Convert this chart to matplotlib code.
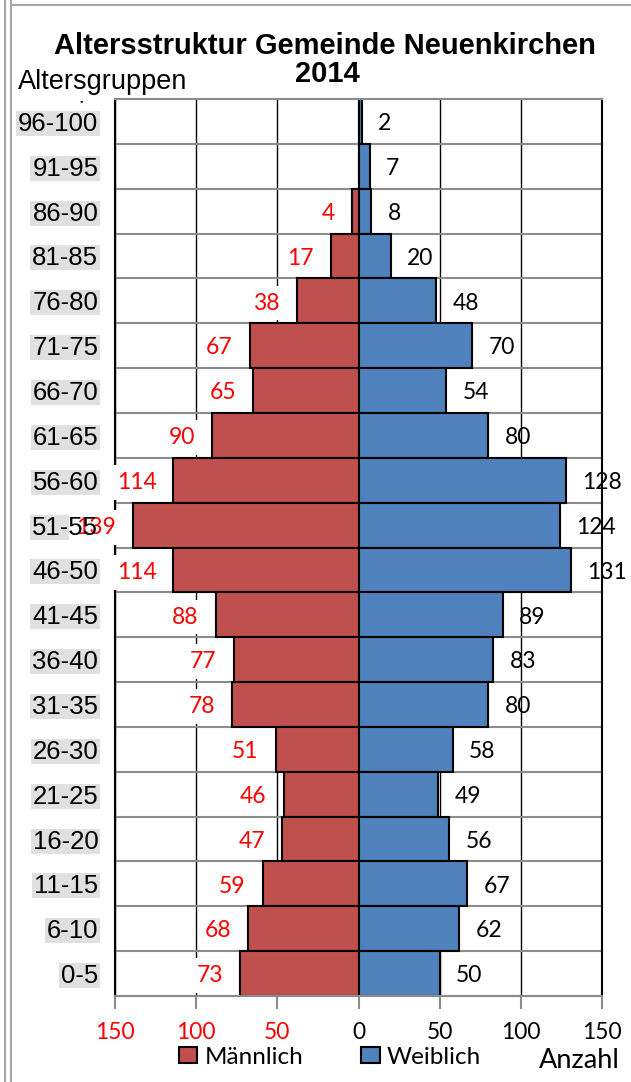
import matplotlib
matplotlib.use("Agg")
import matplotlib.pyplot as plt
import numpy as np
from matplotlib.lines import Line2D
from matplotlib.patches import Rectangle

# ---- data ----
age_groups = ["96-100", "91-95", "86-90", "81-85", "76-80", "71-75", "66-70",
              "61-65", "56-60", "51-55", "46-50", "41-45", "36-40", "31-35",
              "26-30", "21-25", "16-20", "11-15", "6-10", "0-5"]
male = [0, 0, 4, 17, 38, 67, 65, 90, 114, 139, 114, 88, 77, 78, 51, 46, 47, 59, 68, 73]
female = [2, 7, 8, 20, 48, 70, 54, 80, 128, 124, 131, 89, 83, 80, 58, 49, 56, 67, 62, 50]
x_ticks = [-150, -100, -50, 0, 50, 100, 150]
x_tick_labels = ["150", "100", "50", "0", "50", "100", "150"]
title_line1 = "Altersstruktur Gemeinde Neuenkirchen"
title_line2 = "2014"
series_names = ["Männlich", "Weiblich"]

RED = "#C0504D"
BLUE = "#4F81BD"
W, H = 631, 1082

fig = plt.figure(figsize=(W / 100, H / 100), dpi=100)
fig.patch.set_facecolor("white")

def fx(px):
    return px / W

def fy(py):
    return 1 - py / H

ax = fig.add_axes([fx(115), fy(996), (602 - 115) / W, (996 - 99) / H])
ax.set_axisbelow(True)
ax.yaxis.set_zorder(6)

n = len(age_groups)
ypos = np.arange(n)

mbars = ax.barh(ypos, [-m for m in male], height=1.0, color=RED,
                edgecolor="black", linewidth=1.5, label=series_names[0], zorder=2)
fbars = ax.barh(ypos, female, height=1.0, color=BLUE,
                edgecolor="black", linewidth=1.5, label=series_names[1], zorder=2)

ax.set_xlim(-150, 150)
ax.set_ylim(n - 0.5, -0.5)

# horizontal grid lines at row boundaries (behind bars)
ax.hlines(np.arange(n + 1) - 0.5, -150, 150, color="#8C8C8C", linewidth=1.5,
          zorder=0.6, clip_on=False)

# value labels
for i, (m, f) in enumerate(zip(male, female)):
    if m > 0:
        ax.text(-m - 10.5, i + 0.05, str(m), ha="right", va="center",
                color="#FF0000", fontsize=16.5, family="Lato", zorder=5,
                clip_on=False,
                bbox=dict(boxstyle="square,pad=0.3", fc="white", ec="none"))
    if f > 0:
        ax.text(f + 10, i + 0.05, str(f), ha="left", va="center",
                color="black", fontsize=16.5, family="Lato", zorder=5,
                clip_on=False)

# axes styling
ax.set_yticks(ypos)
ax.set_yticklabels(age_groups, family="Liberation Sans", fontsize=18.5)
ax.tick_params(axis="y", which="both", length=0, pad=12)

ax.set_xticks(x_ticks)
ax.set_xticklabels(x_tick_labels, family="Lato", fontsize=16.5)
for lbl, v in zip(ax.get_xticklabels(), x_ticks):
    lbl.set_color("#FF0000" if v < 0 else "black")
ax.tick_params(axis="x", which="major", length=9, width=1.5, color="#8C8C8C", pad=10)
ax.tick_params(axis="x", which="minor", length=0)

ax.grid(False, axis="y")
ax.grid(True, axis="x", which="major", color="black", linewidth=1.0)

ax.spines["left"].set_color("black")
ax.spines["right"].set_color("black")
ax.spines["top"].set_color("#8C8C8C")
ax.spines["bottom"].set_color("#8C8C8C")
for s in ax.spines.values():
    s.set_linewidth(1.5)

# titles and texts
fig.text(fx(325), fy(54), title_line1, ha="center", va="baseline",
         fontsize=21, fontweight="bold", family="Liberation Sans")
fig.text(fx(327), fy(82), title_line2, ha="center", va="baseline",
         fontsize=21, fontweight="bold", family="Liberation Sans")
fig.text(fx(18), fy(89), "Altersgruppen", ha="left", va="baseline",
         fontsize=19.5, family="Liberation Sans")
in_txt = fig.text(fx(88), fy(120), "in", ha="center", va="baseline",
                  fontsize=18, family="Liberation Sans", zorder=-2)
clip_rect = Rectangle((fx(60), fy(106)), fx(60), 8 / H,
                      transform=fig.transFigure)
in_txt.set_clip_path(clip_rect)
fig.text(fx(539), fy(1068), "Anzahl", ha="left", va="baseline",
         fontsize=19.5, family="Lato")

leg = fig.legend(handles=[mbars, fbars], labels=series_names, loc="center",
                 bbox_to_anchor=(fx(330), fy(1057)), ncol=2, frameon=False,
                 prop=dict(family="Lato", size=17.5), handlelength=0.75,
                 handleheight=0.65, handletextpad=0.3, columnspacing=2.4,
                 borderpad=0, borderaxespad=0)

# grey background boxes behind the category labels
fig.canvas.draw()
renderer = fig.canvas.get_renderer()
for lbl in ax.get_yticklabels():
    bb = lbl.get_window_extent(renderer)
    x0, y0 = bb.x0 - 2, bb.y0
    w, h = bb.width + 4, bb.height + 1
    fig.add_artist(Rectangle((x0 / W, y0 / H), w / W, h / H,
                             transform=fig.transFigure, facecolor="#E0E0E0",
                             edgecolor="none", zorder=-1))

# outer frame lines
for xp in (5, 11):
    fig.add_artist(Line2D([fx(xp), fx(xp)], [0, 1], transform=fig.transFigure,
                          color="#A6A6A6", linewidth=1.5))
fig.add_artist(Line2D([fx(11), 1], [fy(5), fy(5)], transform=fig.transFigure,
                      color="#A6A6A6", linewidth=1.5))

fig.savefig("out.png", dpi=100, facecolor="white")
